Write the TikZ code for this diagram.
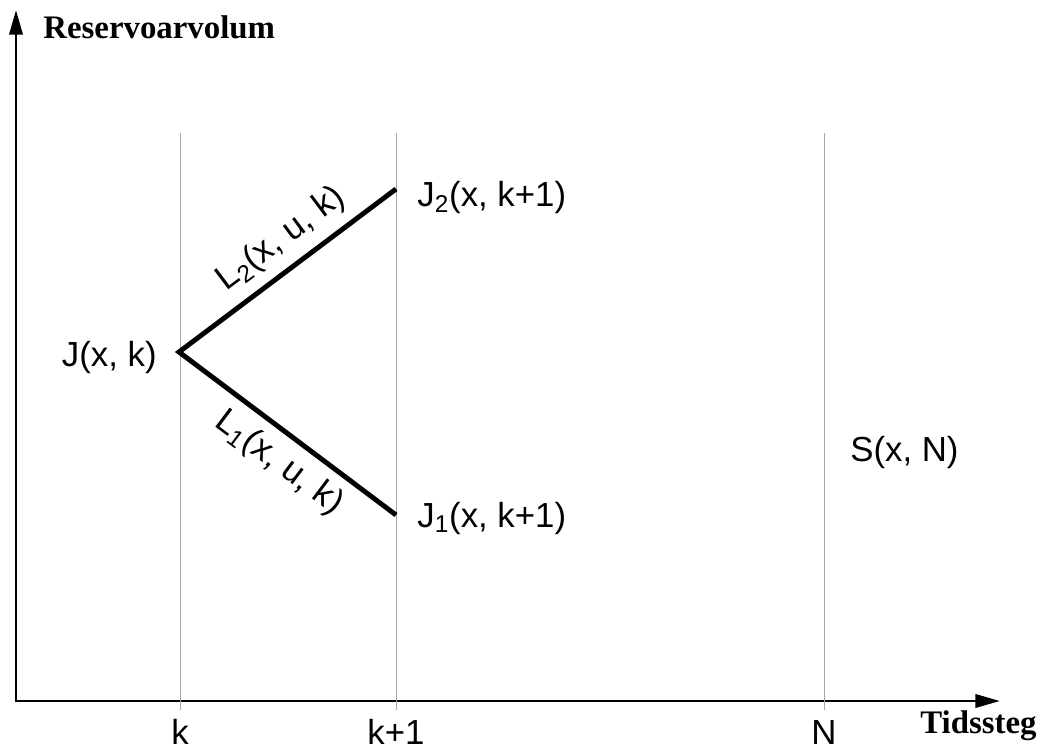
\documentclass[tikz,border=0pt]{standalone}
\usepackage{fontspec}
\setmainfont{Liberation Sans}
\newfontfamily\axserif{Liberation Serif}
\usetikzlibrary{arrows.meta, positioning}

\begin{document}
\begin{tikzpicture}[x=0.02cm, y=-0.02cm,
            axis/.style={draw=black, line width=1.7pt, line join=miter,
                {Triangle[length=14pt, width=7.5pt]}-{Triangle[length=14pt, width=7.5pt]}},
            stepline/.style={draw=gray!70, line width=0.5pt},
            branch/.style={draw=black, line width=2.8pt, line join=miter},
            lbl/.style={font=\fontsize{19.8}{24}\selectfont, inner sep=0pt},
            axlbl/.style={font=\axserif\bfseries\fontsize{18.7}{22}\selectfont, inner sep=0pt}]
            \useasboundingbox (0,0) rectangle (1041,749);
            % axes
            \coordinate (ytop) at (16,10);
            \coordinate (O) at (16,701);
            \coordinate (xend) at (1000,701);
            \draw[axis] (ytop) -- (O) -- (xend);
            \node[axlbl, anchor=base west] (ylbl) at (43,39) {Reservoarvolum};
            \node[axlbl, anchor=base west] (xlbl) at (920,733) {Tidssteg};
            % time steps
            \foreach \n/\xx/\txt in {k/180/k, kp/396/k+1, N/824/N} {
                \coordinate (\n top) at (\xx,133);
                \coordinate (\n bot) at (\xx,710);
                \draw[stepline] (\n top) -- (\n bot);
                \node[lbl, anchor=base] (\n lbl) at (\xx,744) {\txt};
            }
            % branches
            \coordinate (Jk) at (179,352);
            \coordinate (J2) at (396,189);
            \coordinate (J1) at (396,515);
            \draw[branch] (J2) -- (Jk) -- (J1);
            \path (Jk) -- node[lbl, sloped, above=7pt, pos=0.55] (L2lbl) {L\textsubscript{2}(x, u, k)} (J2);
            \path (Jk) -- node[lbl, sloped, below=7pt, pos=0.54] (L1lbl) {L\textsubscript{1}(x, u, k)} (J1);
            \node[lbl, anchor=base east] (Jklbl) at (157,367) {J(x, k)};
            \node[lbl, anchor=base west] (J2lbl) at (417,207) {J\textsubscript{2}(x, k+1)};
            \node[lbl, anchor=base west] (J1lbl) at (417,527) {J\textsubscript{1}(x, k+1)};
            \node[lbl, anchor=base west] (SN) at (850,462) {S(x, N)};
        \end{tikzpicture}
\end{document}
